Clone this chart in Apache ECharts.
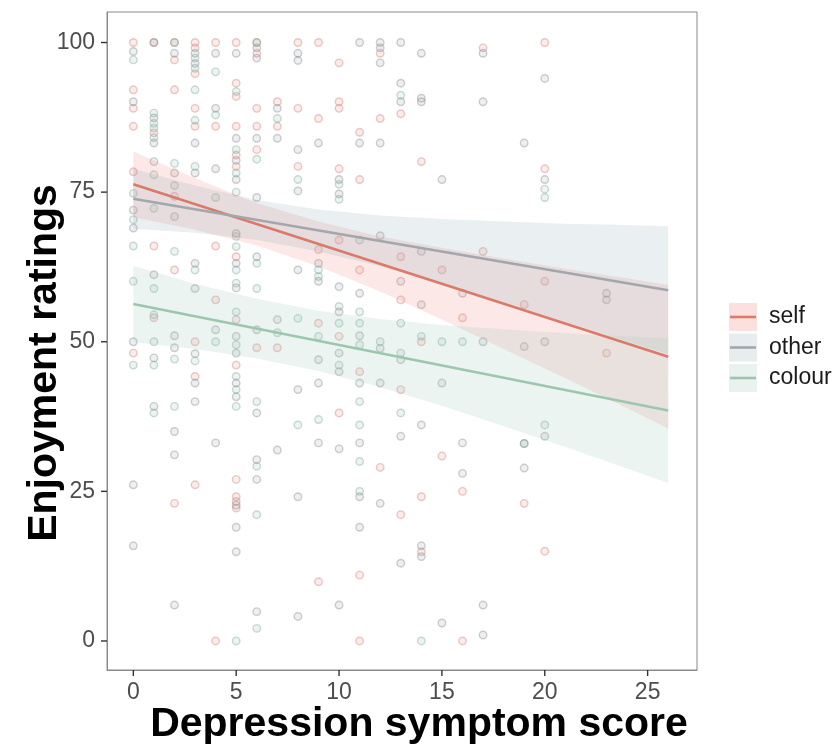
<!DOCTYPE html>
<html>
<head>
<meta charset="utf-8">
<script src="https://cdn.jsdelivr.net/npm/echarts@6/dist/echarts.min.js"></script>
<style>html,body{margin:0;padding:0;background:#fff}#c{width:839px;height:745px}</style>
</head>
<body>
<div id="c"></div>
<script>
// ---------- data ----------
const groups = ['self', 'other', 'colour'];
const xTicks = [0, 5, 10, 15, 20, 25];
const yTicks = [0, 25, 50, 75, 100];

const selfPts = [
 [0,100],[0,92.1],[0,89],[0,86],[0,78.4],[0,48.1],
 [1,100],[1,84.9],[1,54.0],[1,66],
 [2,100],[2,92.1],[2,97.1],[2,74.3],[2,23.0],[2,62.0],
 [3,100],[3,99.1],[3,89],[3,86],[3,94.8],[3,50],[3,44.2],[3,26.1],
 [4,100],[4,86],[4,0],[4,66],[4,57],
 [5,100],[5,93.2],[5,91.0],[5,81.2],[5,79.3],[5,86],[5,27.0],[5,24.1],[5,23.3],[5,22.2],[5,64.2],[5,53.7],[5,46.1],
 [6,100],[6,98.2],[6,86],[6,82.1],[6,89],[6,49.0],
 [7,90.1],[7,86],[7,49.0],
 [8,100],[8,89],[8,79.3],
 [9,100],[9,87.3],[9,65.4],[9,53.1],[9,9.9],
 [10,96.6],[10,90.1],[10,89],[10,78.9],[10,67.0],[10,50.9],[10,38.1],
 [11,85],[11,77.1],[11,62.0],[11,45.0],[11,11.0],[11,0],
 [12,87.3],[12,98.2],[12,29.0],
 [13,88.1],[13,64.2],[13,57.0],[13,42.0],[13,21.1],
 [14,80.1],[14,50.0],[14,14.9],[14,24.1],
 [15,30.9],[15,62],
 [16,25.0],[16,0],[16,54],
 [17,99.1],[17,65.1],
 [19,23.0],[19,56.2],
 [20,100],[20,15.0],[20,78.9],[20,60.1],
 [23,48.1]
];
const otherPts = [
 [0,98.5],[0,90.1],[0,72],[0,69],[0,50.0],[0,15.9],[0,26.1],
 [1,100],[1,87.4],[1,83.2],[1,80.1],[1,61.2],[1,47.3],[1,39.2],
 [2,98.2],[2,78.2],[2,70.9],[2,51.0],[2,49.0],[2,31.1],[2,6.0],[2,35.0],
 [3,98.2],[3,96.5],[3,83.2],[3,78.2],[3,63.1],[3,58.9],[3,48],[3,43.1],[3,40.0],
 [4,98.2],[4,89],[4,78.9],[4,52.0],[4,33.1],
 [5,98.2],[5,84.0],[5,80.3],[5,77.1],[5,68.1],[5,63.1],[5,59.0],[5,50.9],[5,48.1],[5,43.1],[5,40.8],[5,19.0],[5,14.9],[5,22.7],
 [6,99.1],[6,97.4],[6,84],[6,74.1],[6,64.2],[6,52.0],[6,38.1],[6,30.3],[6,27.0],[6,4.9],
 [7,89],[7,84],[7,53.7],[7,31.9],
 [8,98.2],[8,97],[8,82.1],[8,75.2],[8,62.0],[8,42.0],[8,24.1],[8,4.1],
 [9,83.2],[9,63.1],[9,60.1],[9,47.0],[9,43.1],[9,33.1],
 [10,77.1],[10,74.7],[10,59.2],[10,55.0],[10,48.1],[10,45.0],[10,32.1],[10,6.0],
 [11,100],[11,83.2],[11,58.1],[11,51.0],[11,43.1],[11,33.1],[11,24.1],[11,19.0],
 [12,100],[12,99.1],[12,96.6],[12,83.2],[12,67.7],[12,48.9],[12,43.1],[12,23.0],
 [13,100],[13,93.2],[13,90.1],[13,60.1],[13,47.0],[13,34.2],[13,13.0],
 [14,98.2],[14,90.7],[14,90.1],[14,65.1],[14,56.2],[14,36.1],[14,15.9],[14,14.1],
 [15,77.1],[15,43.1],[15,3.0],
 [16,58.1],[16,33.1],[16,28.0],
 [17,98.2],[17,90.1],[17,50],[17,6.0],[17,1.0],
 [19,83.2],[19,49.2],[19,28.9],[19,33.0],
 [20,94.0],[20,77.1],[20,50.0],[20,34.2],
 [23,58.1],[23,57.0]
];
const colourPts = [
 [0,97.1],[0,74.8],[0,70.4],[0,66.0],[0,60.1],[0,46.1],
 [1,88.2],[1,86.5],[1,85.7],[1,84.1],[1,77.9],[1,72.3],[1,58.9],[1,54.5],[1,50.0],[1,46.1],[1,38.1],
 [2,100],[2,79.8],[2,76.1],[2,65.1],[2,47.1],[2,39.2],
 [3,97.4],[3,95.7],[3,92.1],[3,87],[3,79.3],[3,62],[3,46.8],
 [4,95.1],[4,87.9],[4,74.1],[4,50],
 [5,91.8],[5,82.1],[5,78.2],[5,75],[5,67.6],[5,65.9],[5,62.0],[5,59.8],[5,55.0],[5,49.5],[5,44.2],[5,42.0],[5,39.2],[5,0],
 [6,100],[6,80.5],[6,63.1],[6,58.9],[6,40],[6,29.2],[6,21.1],[6,2.1],
 [7,87.3],[7,51.5],
 [8,53.9],[8,36.1],[8,77.1],
 [9,62.0],[9,50.9],[9,37.0],[9,60.9],
 [10,73.8],[10,76.3],[10,55.9],[10,53.1],[10,46.1],
 [11,67],[11,55.0],[11,53.1],[11,49.5],[11,40.0],[11,36.1],[11,30.0],[11,25.0],
 [12,50],
 [13,91.2],[13,53.1],[13,48.1],[13,38.1],
 [14,50.9],[14,0],
 [15,50],[16,50.0],
 [19,33],
 [20,75.5],[20,74.1],[20,36.1]
];

// fitted lines (endpoints)
const fitX = [0, 26];
const selfFit = [76.3, 47.5];
const otherFit = [73.9, 58.6];
const colourFit = [56.3, 38.5];

// confidence bands read at these x positions
const bandX = [0, 3, 6, 9, 12, 15, 18, 21, 24, 26];
const selfLo = [70.8, 68.7, 66.1, 62.6, 58.4, 53.7, 48.8, 43.9, 38.9, 35.5];
const selfHi = [81.8, 77.3, 73.2, 70.1, 67.6, 65.7, 63.9, 62.2, 60.6, 59.5];
const otherLo = [68.9, 68.2, 67.0, 65.1, 62.6, 59.7, 56.6, 53.3, 50.1, 47.9];
const otherHi = [78.9, 76.1, 73.7, 72.1, 71.1, 70.5, 70.1, 69.7, 69.5, 69.3];
const colourLo = [49.9, 48.8, 47.2, 45.1, 42.4, 39.3, 35.9, 32.4, 28.8, 26.4];
const colourHi = [62.7, 59.7, 57.2, 55.2, 53.8, 52.8, 52.1, 51.4, 50.9, 50.6];

// ---------- styling ----------
const X_MIN = -1.28, X_MAX = 27.4, Y_MIN = -4.85, Y_MAX = 105.1;
const lineCol = {self: '#d97a6a', other: '#a2a7ab', colour: '#9cc7ae'};
const ptRGB = {self: '210,118,110', other: '125,130,136', colour: '115,165,145'};
const bandCol = {self: 'rgba(240,140,128,0.2)', other: 'rgba(150,175,185,0.2)', colour: 'rgba(160,200,185,0.2)'};
const keyBg = {self: '#fbe1de', other: '#e7ecee', colour: '#eaf2ef'};
const FONT = '"Liberation Sans", Arial, sans-serif';
const BORDER = '#8a8a8a';
const TICK_LEN = 6;

const chart = echarts.init(document.getElementById('c'), null, {renderer: 'canvas'});

function scatter(name, pts) {
  return {
    type: 'scatter', name: name, data: pts, symbol: 'circle', symbolSize: 7.5,
    itemStyle: {color: 'rgba(' + ptRGB[name] + ',0.16)', borderColor: 'rgba(' + ptRGB[name] + ',0.47)', borderWidth: 1.4},
    silent: true, z: 1
  };
}
function band(name, lo, hi) {
  return {
    type: 'custom', name: name + ' band', silent: true, z: 2, clip: true,
    data: [[0, 0]],
    renderItem: function (params, api) {
      const pts = [];
      for (let i = 0; i < bandX.length; i++) pts.push(api.coord([bandX[i], hi[i]]));
      for (let i = bandX.length - 1; i >= 0; i--) pts.push(api.coord([bandX[i], lo[i]]));
      return {type: 'polygon', shape: {points: pts}, style: {fill: bandCol[name]}};
    }
  };
}
function fit(name, vals) {
  return {
    type: 'line', name: name, data: fitX.map((x, i) => [x, vals[i]]), symbol: 'none',
    lineStyle: {color: lineCol[name], width: 2.6}, silent: true, z: 3
  };
}

const legendGraphics = [];
const keyTop = [303, 333.5, 364];
groups.forEach((g, i) => {
  const y = keyTop[i];
  legendGraphics.push({type: 'rect', shape: {x: 729, y: y, width: 28, height: 28}, style: {fill: keyBg[g]}});
  legendGraphics.push({type: 'line', shape: {x1: 730, y1: y + 14, x2: 756, y2: y + 14}, style: {stroke: lineCol[g], lineWidth: 2.6}});
  legendGraphics.push({type: 'text', x: 769, y: y + 14, style: {text: g, fill: '#1a1a1a', font: '23px ' + FONT, verticalAlign: 'middle', align: 'left'}});
});

const option = {
  animation: false,
  backgroundColor: '#ffffff',
  grid: {left: 107, right: 142, top: 12, bottom: 75, outerBoundsMode: 'none', containLabel: false,
         show: true, borderColor: BORDER, borderWidth: 1, backgroundColor: 'transparent'},
  xAxis: {
    type: 'value', min: X_MIN, max: X_MAX,
    name: 'Depression symptom score', nameLocation: 'middle', nameGap: 34, nameMoveOverlap: false,
    nameTextStyle: {fontSize: 41, fontWeight: 'bold', color: '#000', fontFamily: FONT, padding: [0, 0, 0, 34]},
    axisLine: {show: true, onZero: false, lineStyle: {color: BORDER, width: 1}},
    splitLine: {show: false},
    axisTick: {show: false},
    axisLabel: {customValues: xTicks, fontSize: 23, color: '#4d4d4d', margin: 11, fontFamily: FONT}
  },
  yAxis: {
    type: 'value', min: Y_MIN, max: Y_MAX,
    name: 'Enjoyment ratings', nameLocation: 'middle', nameGap: 42, nameMoveOverlap: false,
    nameTextStyle: {fontSize: 41, fontWeight: 'bold', color: '#000', fontFamily: FONT, padding: [0, 44, 0, 0]},
    axisLine: {show: true, onZero: false, lineStyle: {color: BORDER, width: 1}},
    splitLine: {show: false},
    axisTick: {show: false},
    axisLabel: {customValues: yTicks, fontSize: 23, color: '#4d4d4d', margin: 12, fontFamily: FONT}
  },
  graphic: legendGraphics,
  series: [
    scatter('self', selfPts), scatter('other', otherPts), scatter('colour', colourPts),
    band('self', selfLo, selfHi), band('other', otherLo, otherHi), band('colour', colourLo, colourHi),
    fit('self', selfFit), fit('other', otherFit), fit('colour', colourFit)
  ]
};
chart.setOption(option);

// axis tick marks, positioned through the chart's own axis scales
const tickGraphics = [];
try {
  xTicks.forEach(v => {
    const p = chart.convertToPixel({gridIndex: 0}, [v, Y_MIN]);
    tickGraphics.push({type: 'line', z: 100, shape: {x1: p[0], y1: p[1], x2: p[0], y2: p[1] + TICK_LEN}, style: {stroke: '#333333', lineWidth: 1.4}});
  });
  yTicks.forEach(v => {
    const p = chart.convertToPixel({gridIndex: 0}, [X_MIN, v]);
    tickGraphics.push({type: 'line', z: 100, shape: {x1: p[0], y1: p[1], x2: p[0] - TICK_LEN, y2: p[1]}, style: {stroke: '#333333', lineWidth: 1.4}});
  });
} catch (e) {}
chart.setOption({graphic: legendGraphics.concat(tickGraphics)});
</script>
</body>
</html>
